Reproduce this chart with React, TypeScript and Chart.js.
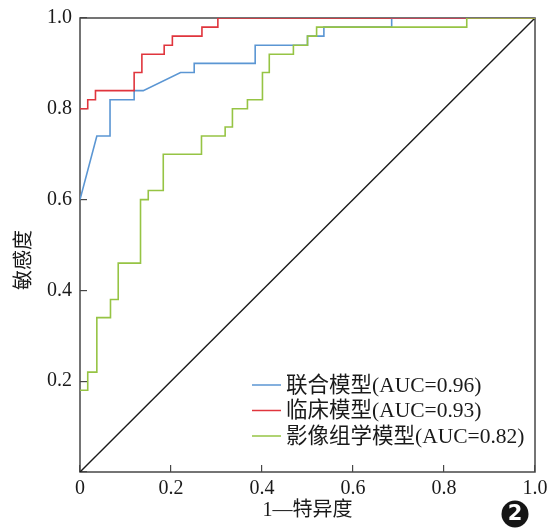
import React, { useEffect, useRef } from 'react';
import { Chart, registerables } from 'chart.js';

Chart.register(...registerables);

// ROC curve vertices (1 - specificity, sensitivity)
const combinedFpr = [0, 0.037, 0.066, 0.066, 0.119, 0.119, 0.139, 0.221, 0.251, 0.251, 0.385, 0.385, 0.5, 0.5, 0.536, 0.536, 0.685, 0.685, 1];
const combinedTpr = [0.6, 0.74, 0.74, 0.82, 0.82, 0.84, 0.84, 0.88, 0.88, 0.9, 0.9, 0.94, 0.94, 0.96, 0.96, 0.98, 0.98, 1, 1];

const clinicalFpr = [0, 0.017, 0.017, 0.034, 0.034, 0.119, 0.119, 0.136, 0.136, 0.185, 0.185, 0.203, 0.203, 0.268, 0.268, 0.303, 0.303, 1];
const clinicalTpr = [0.8, 0.8, 0.82, 0.82, 0.84, 0.84, 0.88, 0.88, 0.92, 0.92, 0.94, 0.94, 0.96, 0.96, 0.98, 0.98, 1, 1];

const radiomicsFpr = [0, 0.017, 0.017, 0.037, 0.037, 0.067, 0.067, 0.084, 0.084, 0.133, 0.133, 0.15, 0.15, 0.183, 0.183, 0.267, 0.267, 0.319, 0.319, 0.335, 0.335, 0.368, 0.368, 0.401, 0.401, 0.416, 0.416, 0.469, 0.469, 0.5, 0.5, 0.52, 0.52, 0.85, 0.85, 1];
const radiomicsTpr = [0.18, 0.18, 0.22, 0.22, 0.34, 0.34, 0.38, 0.38, 0.46, 0.46, 0.6, 0.6, 0.62, 0.62, 0.7, 0.7, 0.74, 0.74, 0.76, 0.76, 0.8, 0.8, 0.82, 0.82, 0.88, 0.88, 0.92, 0.92, 0.94, 0.94, 0.96, 0.96, 0.98, 0.98, 1, 1];

const referenceFpr = [0, 1];
const referenceTpr = [0, 1];

const seriesLabels = ['联合模型(AUC=0.96)', '临床模型(AUC=0.93)', '影像组学模型(AUC=0.82)'];
const seriesColors = ['#5b96d3', '#e0353d', '#96c444'];

const tickValues = [0, 0.2, 0.4, 0.6, 0.8, 1.0];
const xTitle = '1—特异度';
const yTitle = '敏感度';
const figureNumber = '2';

const SERIF = "'Liberation Serif', 'Noto Sans CJK SC', serif";
const AXIS_COLOR = '#474747';

function toPoints(xs: number[], ys: number[]) {
  return xs.map((x, i) => ({ x, y: ys[i] }));
}

const framePlugin = {
  id: 'frame',
  beforeDatasetsDraw(chart: any) {
    const { ctx, chartArea } = chart;
    const { left, right, top, bottom } = chartArea;
    ctx.save();
    ctx.strokeStyle = AXIS_COLOR;
    ctx.lineWidth = 1.5;
    ctx.strokeRect(left, top, right - left, bottom - top);
    ctx.restore();
  },
  afterDraw(chart: any) {
    const { ctx, chartArea } = chart;
    const { left, top, bottom } = chartArea;
    ctx.save();
    // y-axis title
    ctx.translate(25, (top + bottom) / 2 + 15);
    ctx.rotate(-Math.PI / 2);
    ctx.font = `20px ${SERIF}`;
    ctx.fillStyle = '#1a1a1a';
    ctx.textAlign = 'center';
    ctx.textBaseline = 'middle';
    ctx.fillText(yTitle, 0, 0);
    ctx.restore();

    ctx.save();
    // legend (inside plot, lower right)
    const rows = [bottom - 87, bottom - 61.5, bottom - 36];
    ctx.font = `21.5px ${SERIF}`;
    ctx.textBaseline = 'middle';
    ctx.textAlign = 'left';
    seriesLabels.forEach((label, i) => {
      ctx.strokeStyle = seriesColors[i];
      ctx.lineWidth = 1.5;
      ctx.beginPath();
      ctx.moveTo(left + 172, rows[i]);
      ctx.lineTo(left + 201, rows[i]);
      ctx.stroke();
      ctx.fillStyle = '#1a1a1a';
      ctx.fillText(label, left + 206, rows[i] + 1);
    });
    // figure number badge
    const cx = 515;
    const cy = 514;
    ctx.fillStyle = '#151515';
    ctx.beginPath();
    ctx.arc(cx, cy, 13.5, 0, Math.PI * 2);
    ctx.fill();
    ctx.fillStyle = '#ffffff';
    ctx.font = `bold 21px 'DejaVu Sans', sans-serif`;
    ctx.textAlign = 'center';
    ctx.textBaseline = 'middle';
    ctx.fillText(figureNumber, cx, cy + 1);
    ctx.restore();
  },
};

export default function App() {
  const canvasRef = useRef<HTMLCanvasElement | null>(null);

  useEffect(() => {
    if (!canvasRef.current) return;
    const lineStyle = { showLine: true, pointRadius: 0, borderWidth: 1.6, fill: false, tension: 0 };
    const chart = new Chart(canvasRef.current, {
      type: 'scatter',
      data: {
        datasets: [
          { label: seriesLabels[0], data: toPoints(combinedFpr, combinedTpr), borderColor: seriesColors[0], backgroundColor: seriesColors[0], order: 2, ...lineStyle },
          { label: seriesLabels[1], data: toPoints(clinicalFpr, clinicalTpr), borderColor: seriesColors[1], backgroundColor: seriesColors[1], order: 1, ...lineStyle },
          { label: seriesLabels[2], data: toPoints(radiomicsFpr, radiomicsTpr), borderColor: seriesColors[2], backgroundColor: seriesColors[2], order: 0, ...lineStyle },
          { label: 'reference', data: toPoints(referenceFpr, referenceTpr), borderColor: '#1a1a1a', backgroundColor: '#1a1a1a', order: 3, ...lineStyle, borderWidth: 1.4 },
        ],
      },
      options: {
        responsive: false,
        animation: false,
        layout: { padding: { left: 0, right: 14, top: 18, bottom: 0 } },
        plugins: { legend: { display: false }, tooltip: { enabled: false } },
        scales: {
          x: {
            type: 'linear',
            min: 0,
            max: 1,
            afterBuildTicks: (scale: any) => { scale.ticks = tickValues.map((v) => ({ value: v })); },
            afterFit: (scale: any) => {
              scale.height = 58;
              scale.paddingLeft = 0;
              scale.paddingRight = 0;
            },
            ticks: {
              color: '#1a1a1a',
              font: { family: SERIF, size: 20 },
              padding: 12,
              maxRotation: 0,
              callback: (v: any) => (Number(v) === 0 ? '0' : Number(v).toFixed(1)),
            },
            grid: { drawOnChartArea: false, drawTicks: true, tickLength: -7, color: AXIS_COLOR, lineWidth: 1.2 },
            border: { display: false },
            title: { display: true, text: xTitle, color: '#1a1a1a', font: { family: SERIF, size: 20 }, padding: { top: 0, bottom: 7 } },
          },
          y: {
            type: 'linear',
            min: 0,
            max: 1,
            afterBuildTicks: (scale: any) => { scale.ticks = tickValues.map((v) => ({ value: v })); },
            afterFit: (scale: any) => {
              scale.width = 80;
              scale.paddingTop = 0;
              scale.paddingBottom = 0;
            },
            ticks: {
              color: '#1a1a1a',
              font: { family: SERIF, size: 20 },
              padding: 15,
              callback: (v: any) => (Number(v) === 0 ? '' : Number(v).toFixed(1)),
            },
            grid: { drawOnChartArea: false, drawTicks: true, tickLength: -7, color: AXIS_COLOR, lineWidth: 1.2 },
            border: { display: false },
            title: { display: false, text: yTitle },
          },
        },
      },
      plugins: [framePlugin],
    } as any);
    return () => chart.destroy();
  }, []);

  return (
    <div style={{ position: 'absolute', left: 0, top: 0, width: 549, height: 530, background: '#ffffff' }}>
      <canvas ref={canvasRef} width={549} height={530} style={{ display: 'block' }} />
    </div>
  );
}
